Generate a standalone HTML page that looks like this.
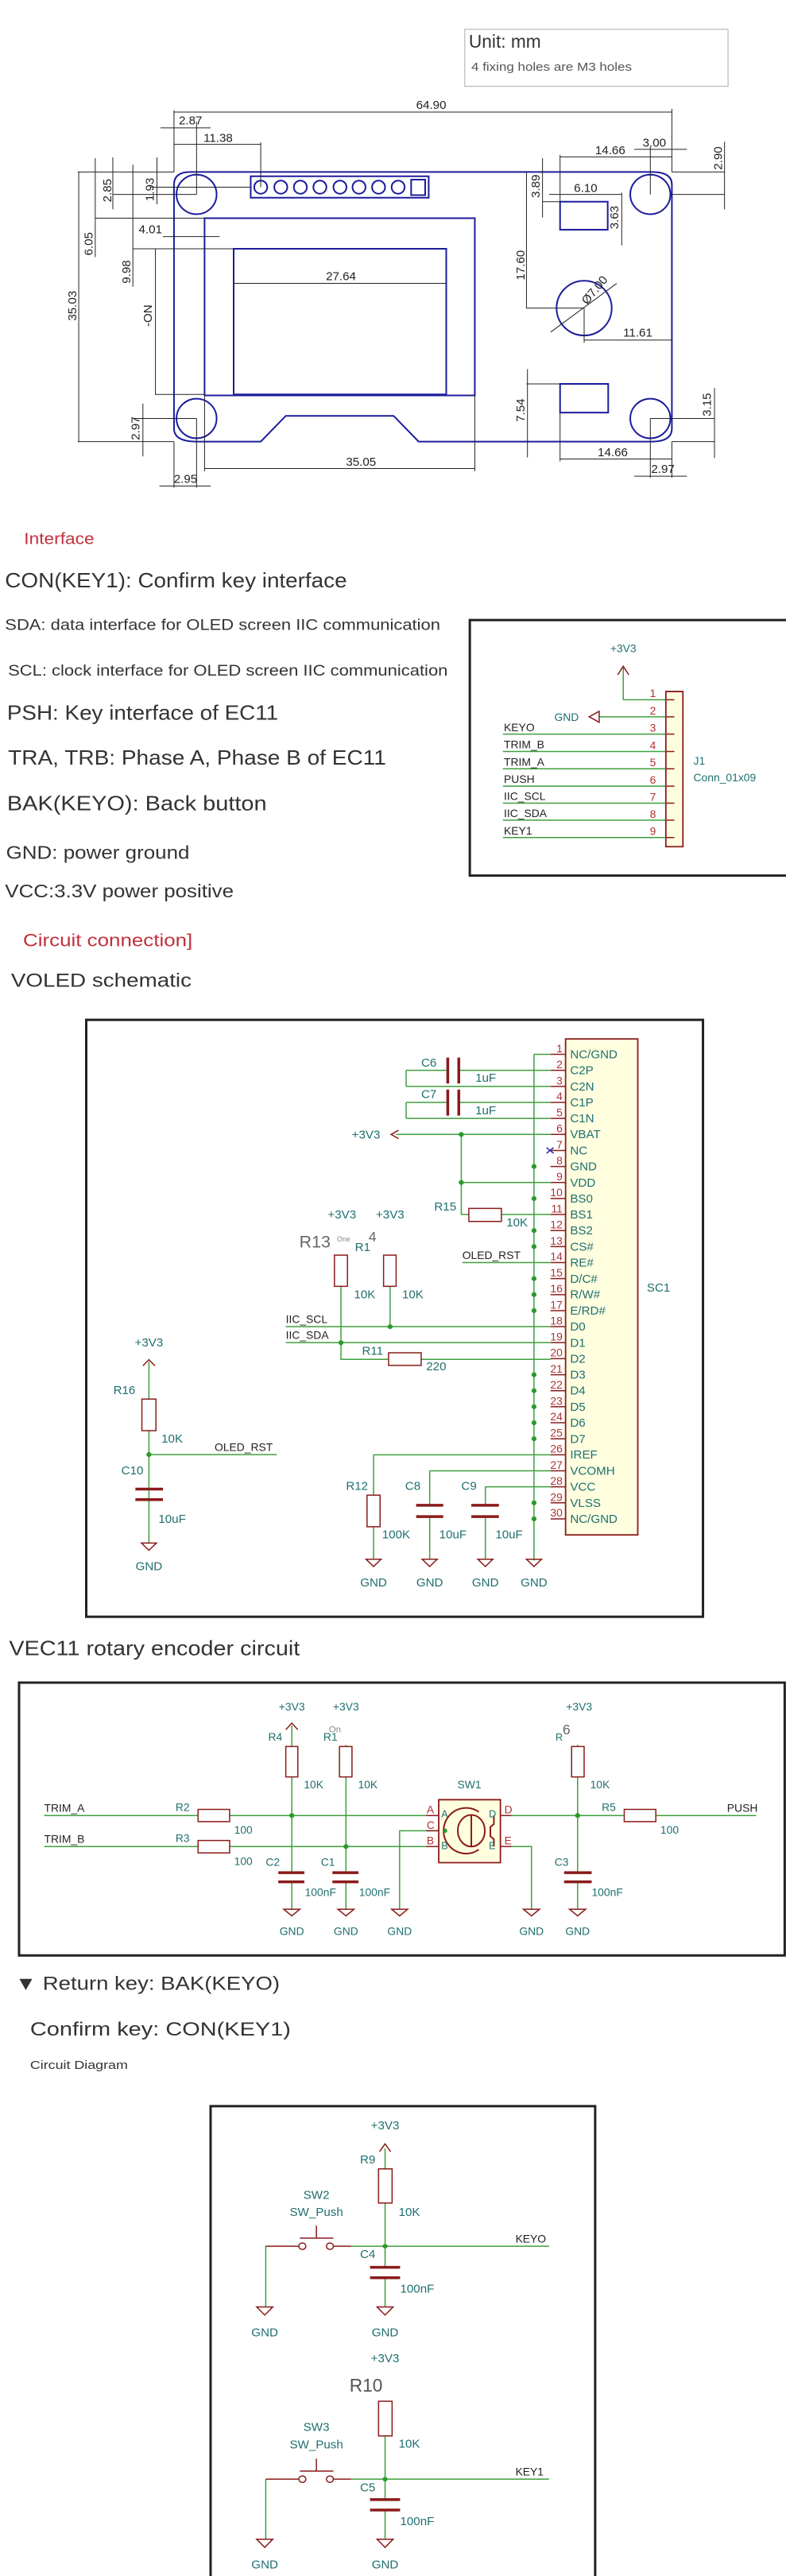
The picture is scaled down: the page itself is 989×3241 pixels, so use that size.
<!DOCTYPE html>
<html><head><meta charset="utf-8"><style>
html,body{margin:0;padding:0;background:#fff;}
svg{display:block;}
svg *{vector-effect:non-scaling-stroke;}
text{font-family:"Liberation Sans",sans-serif;}
.dl{stroke:#222;stroke-width:1;fill:none;}
.bd{stroke:#1c1c9c;stroke-width:2;fill:none;}
.dt{font-size:24px;fill:#222;text-anchor:middle;}
.tx{fill:#333;}
.red{fill:#c0303a;}
.w{stroke:#3f9f3f;stroke-width:1.5;fill:none;}
.r{stroke:#8b1a1a;stroke-width:1.5;fill:none;}
.rf{stroke:#8b1a1a;stroke-width:1.5;fill:#fff;}
.cap{stroke:#8b1a1a;stroke-width:3.5;fill:none;}
.ic{stroke:#8b1a1a;stroke-width:1.8;fill:#ffffe0;}
.box{stroke:#222;stroke-width:3;fill:none;}
.s{font-size:22px;fill:#222;}
.sm{font-size:22px;fill:#1f6f6f;}
.sc{font-size:24px;fill:#1f6f6f;}
.pn{font-size:22px;fill:#b03030;text-anchor:end;}
.c{text-anchor:middle;}
.dot{fill:#2a9a2a;}
</style></head><body>
<svg width="989" height="3241" viewBox="0 0 989 3241" xmlns="http://www.w3.org/2000/svg">
<rect width="989" height="3241" fill="#fff"/>

<!-- ===== Section 1: dimension drawing ===== -->
<g transform="scale(0.6309,0.4146)">
<rect x="927" y="89" width="525" height="173" fill="none" stroke="#aaa" stroke-width="1"/>
<text class="tx" style="font-size:36px" transform="translate(935,145)scale(1,1.522)">Unit: mm</text>
<text class="tx" style="font-size:24px;fill:#555" textLength="320" lengthAdjust="spacingAndGlyphs" transform="translate(940,215)scale(1,1.522)">4 fixing holes are M3 holes</text>

<!-- board -->
<path class="bd" d="M380,522 L1300,522 Q1340,522 1340,560 L1340,1300 Q1340,1340 1300,1340 L835,1340 L785,1262 L570,1262 L520,1340 L392,1340 Q347,1340 347,1300 L347,560 Q347,522 380,522 Z"/>
<ellipse class="bd" cx="392" cy="590" rx="40" ry="60"/>
<ellipse class="bd" cx="1297" cy="590" rx="40" ry="60"/>
<ellipse class="bd" cx="392" cy="1270" rx="40" ry="60"/>
<ellipse class="bd" cx="1297" cy="1270" rx="40" ry="60"/>
<rect class="bd" x="500" y="535" width="355" height="65"/>
<g class="bd">
<ellipse cx="520" cy="568" rx="13" ry="20"/><ellipse cx="560" cy="568" rx="13" ry="20"/><ellipse cx="599" cy="568" rx="13" ry="20"/><ellipse cx="638" cy="568" rx="13" ry="20"/><ellipse cx="678" cy="568" rx="13" ry="20"/><ellipse cx="716" cy="568" rx="13" ry="20"/><ellipse cx="755" cy="568" rx="13" ry="20"/><ellipse cx="794" cy="568" rx="13" ry="20"/>
<rect x="820" y="545" width="28" height="47"/>
</g>
<rect class="bd" x="408" y="662" width="539" height="538"/>
<rect class="bd" x="466" y="755" width="424" height="442"/>
<rect class="bd" x="1117" y="612" width="95" height="85"/>
<rect class="bd" x="1117" y="1165" width="96" height="87"/>
<ellipse class="bd" cx="1165" cy="935" rx="55" ry="83"/>

<!-- dimension lines -->
<g class="dl">
<path d="M347,340 H1340 M347,335 V522 M1340,330 V522"/>
<path d="M320,388 H420 M392,370 V590"/>
<path d="M347,438 H520 M520,432 V568"/>
<path d="M1117,476 H1340 M1265,453 H1370 M1297,445 V590 M1117,470 V612"/>
<path d="M1445,430 V635 M1340,522 H1445 M1340,590 H1445"/>
<path d="M190,480 V780 M225,478 V635 M265,500 V870 M313,478 V620"/>
<path d="M155,522 H347 M225,590 H392 M300,568 H500 M190,662 H408"/>
<path d="M325,718 H438 M265,755 H466 M310,755 V1197 H408"/>
<path d="M157,522 V1340 M155,1340 H347"/>
<path d="M466,860 H890"/>
<path d="M1050,522 V935 H1165 M1098,1008 L1230,860"/>
<path d="M1165,935 V1040 M1165,1032 H1340"/>
<path d="M1082,480 V660 M1095,590 H1240 M1240,585 V745 M1082,612 H1117"/>
<path d="M1052,1120 V1388 M1050,1165 H1117"/>
<path d="M1425,1178 V1390 M1297,1270 H1425 M1340,1340 H1425"/>
<path d="M1117,1393 H1340 M1117,1252 V1400 M1340,1340 V1450 M1265,1445 H1370 M1297,1270 V1450"/>
<path d="M285,1225 V1385 M265,1270 H392"/>
<path d="M408,1422 H947 M408,1200 V1430 M947,1200 V1430"/>
<path d="M318,1475 H420 M347,1340 V1480 M392,1270 V1480"/>
</g>
<text class="dt" transform="translate(860,330)scale(1,1.522)">64.90</text>
<text class="dt" transform="translate(380,378)scale(1,1.522)">2.87</text>
<text class="dt" transform="translate(435,430)scale(1,1.522)">11.38</text>
<text class="dt" transform="translate(1217,468)scale(1,1.522)">14.66</text>
<text class="dt" transform="translate(1305,445)scale(1,1.522)">3.00</text>
<text class="dt" transform="translate(1440,480)scale(1,1.522)rotate(-90)">2.90</text>
<text class="dt" transform="translate(222,578)scale(1,1.522)rotate(-90)">2.85</text>
<text class="dt" transform="translate(307,575)scale(1,1.522)rotate(-90)">1.93</text>
<text class="dt" transform="translate(185,740)scale(1,1.522)rotate(-90)">6.05</text>
<text class="dt" transform="translate(300,708)scale(1,1.522)">4.01</text>
<text class="dt" transform="translate(260,825)scale(1,1.522)rotate(-90)">9.98</text>
<text class="dt" transform="translate(152,928)scale(1,1.522)rotate(-90)">35.03</text>
<text class="dt" transform="translate(303,958)scale(1,1.522)rotate(-90)">-ON</text>
<text class="dt" transform="translate(680,850)scale(1,1.522)">27.64</text>
<text class="dt" transform="translate(1046,805)scale(1,1.522)rotate(-90)">17.60</text>
<text class="dt" transform="translate(1192,888)scale(1,1.522)rotate(-50)">Ø7.00</text>
<text class="dt" transform="translate(1272,1022)scale(1,1.522)">11.61</text>
<text class="dt" transform="translate(1076,565)scale(1,1.522)rotate(-90)">3.89</text>
<text class="dt" transform="translate(1168,582)scale(1,1.522)">6.10</text>
<text class="dt" transform="translate(1233,660)scale(1,1.522)rotate(-90)">3.63</text>
<text class="dt" transform="translate(1046,1245)scale(1,1.522)rotate(-90)">7.54</text>
<text class="dt" transform="translate(1418,1228)scale(1,1.522)rotate(-90)">3.15</text>
<text class="dt" transform="translate(1222,1385)scale(1,1.522)">14.66</text>
<text class="dt" transform="translate(1322,1435)scale(1,1.522)">2.97</text>
<text class="dt" transform="translate(278,1300)scale(1,1.522)rotate(-90)">2.97</text>
<text class="dt" transform="translate(720,1413)scale(1,1.522)">35.05</text>
<text class="dt" transform="translate(370,1465)scale(1,1.522)">2.95</text>
</g>

<!-- ===== Section 2: interface ===== -->
<g transform="translate(0,650) scale(0.6309,0.3827)">
<text class="red" style="font-size:32px" textLength="140" lengthAdjust="spacingAndGlyphs" transform="translate(48,90)scale(1,1.649)">Interface</text>
<text class="tx" style="font-size:41px" textLength="682" lengthAdjust="spacingAndGlyphs" transform="translate(10,232)scale(1,1.649)">CON(KEY1): Confirm key interface</text>
<text class="tx" style="font-size:31px" textLength="868" lengthAdjust="spacingAndGlyphs" transform="translate(10,372)scale(1,1.649)">SDA: data interface for OLED screen IIC communication</text>
<text class="tx" style="font-size:31px" textLength="877" lengthAdjust="spacingAndGlyphs" transform="translate(16,522)scale(1,1.649)">SCL: clock interface for OLED screen IIC communication</text>
<text class="tx" style="font-size:41px" textLength="541" lengthAdjust="spacingAndGlyphs" transform="translate(14,668)scale(1,1.649)">PSH: Key interface of EC11</text>
<text class="tx" style="font-size:41px" textLength="754" lengthAdjust="spacingAndGlyphs" transform="translate(16,815)scale(1,1.649)">TRA, TRB: Phase A, Phase B of EC11</text>
<text class="tx" style="font-size:41px" textLength="518" lengthAdjust="spacingAndGlyphs" transform="translate(14,965)scale(1,1.649)">BAK(KEYO): Back button</text>
<text class="tx" style="font-size:36px" textLength="366" lengthAdjust="spacingAndGlyphs" transform="translate(12,1125)scale(1,1.649)">GND: power ground</text>
<text class="tx" style="font-size:36px" textLength="456" lengthAdjust="spacingAndGlyphs" transform="translate(10,1252)scale(1,1.649)">VCC:3.3V power positive</text>
<text class="red" style="font-size:35px" textLength="338" lengthAdjust="spacingAndGlyphs" transform="translate(46,1412)scale(1,1.649)">Circuit connection]</text>
<text class="tx" style="font-size:38px" textLength="360" lengthAdjust="spacingAndGlyphs" transform="translate(22,1545)scale(1,1.649)">VOLED schematic</text>

<rect class="box" x="937" y="340" width="700" height="840"/>
<rect class="ic" x="1328" y="575" width="34" height="510"/>
<path class="r" d="M1325,602H1345M1325,658H1345M1325,715H1345M1325,772H1345M1325,829H1345M1325,886H1345M1325,942H1345M1325,998H1345M1325,1055H1345"/>
<path class="w" d="M1243,602H1328M1243,602V495 M1195,658H1328 M1003,715H1328M1003,772H1328M1003,829H1328M1003,886H1328M1003,942H1328M1003,998H1328M1003,1055H1328"/>
<path class="r" d="M1232,520L1243,492L1254,520 M1195,640L1175,658L1195,676Z"/>
<g class="pn" style="text-anchor:middle">
<text transform="translate(1302,593)scale(1,1.649)">1</text><text transform="translate(1302,650)scale(1,1.649)">2</text><text transform="translate(1302,707)scale(1,1.649)">3</text><text transform="translate(1302,764)scale(1,1.649)">4</text><text transform="translate(1302,821)scale(1,1.649)">5</text><text transform="translate(1302,878)scale(1,1.649)">6</text><text transform="translate(1302,934)scale(1,1.649)">7</text><text transform="translate(1302,990)scale(1,1.649)">8</text><text transform="translate(1302,1047)scale(1,1.649)">9</text>
</g>
<g class="s">
<text transform="translate(1005,705)scale(1,1.649)">KEYO</text>
<text transform="translate(1005,762)scale(1,1.649)">TRIM_B</text>
<text transform="translate(1005,819)scale(1,1.649)">TRIM_A</text>
<text transform="translate(1005,876)scale(1,1.649)">PUSH</text>
<text transform="translate(1005,932)scale(1,1.649)">IIC_SCL</text>
<text transform="translate(1005,988)scale(1,1.649)">IIC_SDA</text>
<text transform="translate(1005,1045)scale(1,1.649)">KEY1</text>
</g>
<text class="sm c" transform="translate(1243,445)scale(1,1.649)">+3V3</text>
<text class="sm c" transform="translate(1130,672)scale(1,1.649)">GND</text>
<text class="sm" transform="translate(1383,815)scale(1,1.649)">J1</text>
<text class="sm" transform="translate(1383,870)scale(1,1.649)">Conn_01x09</text>
</g>

<!-- ===== Section 3: OLED schematic ===== -->
<g transform="translate(0,1250) scale(0.6309,0.5102)">
<rect class="box" x="172" y="65" width="1230" height="1472"/>
<rect class="ic" x="1128" y="112" width="144" height="1223"/>
<path class="r" d="M1098,150H1128M1098,189.5H1128M1098,229H1128M1098,268.5H1128M1098,308H1128M1098,347.5H1128M1098,387H1128M1098,426.5H1128M1098,466H1128M1098,505.5H1128M1098,545H1128M1098,584.5H1128M1098,624H1128M1098,663.5H1128M1098,703H1128M1098,742.5H1128M1098,782H1128M1098,821.5H1128M1098,861H1128M1098,900.5H1128M1098,940H1128M1098,979.5H1128M1098,1019H1128M1098,1058.5H1128M1098,1098H1128M1098,1137.5H1128M1098,1177H1128M1098,1216.5H1128M1098,1256H1128M1098,1295.5H1128"/>
<g class="pn">
<text transform="translate(1122,145)scale(1,1.237)">1</text><text transform="translate(1122,184)scale(1,1.237)">2</text><text transform="translate(1122,224)scale(1,1.237)">3</text><text transform="translate(1122,263)scale(1,1.237)">4</text><text transform="translate(1122,303)scale(1,1.237)">5</text><text transform="translate(1122,342)scale(1,1.237)">6</text><text transform="translate(1122,382)scale(1,1.237)">7</text><text transform="translate(1122,421)scale(1,1.237)">8</text><text transform="translate(1122,461)scale(1,1.237)">9</text><text transform="translate(1122,500)scale(1,1.237)">10</text>
<text transform="translate(1122,540)scale(1,1.237)">11</text><text transform="translate(1122,579)scale(1,1.237)">12</text><text transform="translate(1122,619)scale(1,1.237)">13</text><text transform="translate(1122,658)scale(1,1.237)">14</text><text transform="translate(1122,698)scale(1,1.237)">15</text><text transform="translate(1122,737)scale(1,1.237)">16</text><text transform="translate(1122,777)scale(1,1.237)">17</text><text transform="translate(1122,816)scale(1,1.237)">18</text><text transform="translate(1122,856)scale(1,1.237)">19</text><text transform="translate(1122,895)scale(1,1.237)">20</text>
<text transform="translate(1122,935)scale(1,1.237)">21</text><text transform="translate(1122,974)scale(1,1.237)">22</text><text transform="translate(1122,1014)scale(1,1.237)">23</text><text transform="translate(1122,1053)scale(1,1.237)">24</text><text transform="translate(1122,1093)scale(1,1.237)">25</text><text transform="translate(1122,1132)scale(1,1.237)">26</text><text transform="translate(1122,1172)scale(1,1.237)">27</text><text transform="translate(1122,1211)scale(1,1.237)">28</text><text transform="translate(1122,1251)scale(1,1.237)">29</text><text transform="translate(1122,1290)scale(1,1.237)">30</text>
</g>
<g class="sc">
<text transform="translate(1137,160)scale(1,1.237)">NC/GND</text><text transform="translate(1137,199)scale(1,1.237)">C2P</text><text transform="translate(1137,239)scale(1,1.237)">C2N</text><text transform="translate(1137,278)scale(1,1.237)">C1P</text><text transform="translate(1137,318)scale(1,1.237)">C1N</text><text transform="translate(1137,357)scale(1,1.237)">VBAT</text><text transform="translate(1137,397)scale(1,1.237)">NC</text><text transform="translate(1137,436)scale(1,1.237)">GND</text><text transform="translate(1137,476)scale(1,1.237)">VDD</text><text transform="translate(1137,515)scale(1,1.237)">BS0</text>
<text transform="translate(1137,555)scale(1,1.237)">BS1</text><text transform="translate(1137,594)scale(1,1.237)">BS2</text><text transform="translate(1137,634)scale(1,1.237)">CS#</text><text transform="translate(1137,673)scale(1,1.237)">RE#</text><text transform="translate(1137,713)scale(1,1.237)">D/C#</text><text transform="translate(1137,752)scale(1,1.237)">R/W#</text><text transform="translate(1137,792)scale(1,1.237)">E/RD#</text><text transform="translate(1137,831)scale(1,1.237)">D0</text><text transform="translate(1137,871)scale(1,1.237)">D1</text><text transform="translate(1137,910)scale(1,1.237)">D2</text>
<text transform="translate(1137,950)scale(1,1.237)">D3</text><text transform="translate(1137,989)scale(1,1.237)">D4</text><text transform="translate(1137,1029)scale(1,1.237)">D5</text><text transform="translate(1137,1068)scale(1,1.237)">D6</text><text transform="translate(1137,1108)scale(1,1.237)">D7</text><text transform="translate(1137,1147)scale(1,1.237)">IREF</text><text transform="translate(1137,1187)scale(1,1.237)">VCOMH</text><text transform="translate(1137,1226)scale(1,1.237)">VCC</text><text transform="translate(1137,1266)scale(1,1.237)">VLSS</text><text transform="translate(1137,1305)scale(1,1.237)">NC/GND</text>
<text transform="translate(1290,735)scale(1,1.237)">SC1</text>
</g>
<!-- wires -->
<path class="w" d="M1065,150H1098 M1065,150V1398
M915,189.5H1098 M810,229H1098 M810,189.5V229 M810,189.5H893
M915,268.5H1098 M810,308H1098 M810,268.5V308 M810,268.5H893
M790,347.5H1098 M920,347.5V545 M920,466H1098 M920,545H935 M1000,545H1098
M922,663.5H1098
M680,722V902H775 M840,902H1098 M778,722V821.5 M570,821.5H1098 M570,861H1098
M297,908V1000 M297,1078V1355 M297,1137H552 M297,1222V1248
M745,1137.5H1098 M745,1137.5V1237 M745,1315V1395
M857,1177H1098 M857,1177V1262 M857,1290V1395
M968,1216.5H1098 M968,1216.5V1262 M968,1290V1395"/>
<path class="cap" d="M893,158V222 M915,158V222 M893,237V301 M915,237V301 M270,1222H325 M270,1248H325 M830,1262H884 M830,1290H884 M940,1262H995 M940,1290H995"/>
<path class="r" d="M795,337L780,347.5L795,358 M285,918L297,903L309,918
M1050,1395H1080L1065,1413Z M282,1355H312L297,1373Z M730,1395H760L745,1413Z M842,1395H872L857,1413Z M953,1395H983L968,1413Z"/>
<rect class="rf" x="935" y="530" width="65" height="32"/>
<rect class="rf" x="667" y="645" width="26" height="77"/>
<rect class="rf" x="765" y="645" width="25" height="77"/>
<rect class="rf" x="775" y="886" width="65" height="31"/>
<rect class="rf" x="283" y="1000" width="28" height="78"/>
<rect class="rf" x="732" y="1237" width="26" height="78"/>
<path d="M1090,380L1104,394M1104,380L1090,394" stroke="#3030b0" stroke-width="1.5"/>
<g class="dot">
<ellipse cx="920" cy="347.5" rx="5" ry="6"/><ellipse cx="920" cy="466" rx="5" ry="6"/><ellipse cx="778" cy="821.5" rx="5" ry="6"/><ellipse cx="680" cy="861" rx="5" ry="6"/><ellipse cx="297" cy="1137" rx="5" ry="6"/>
<ellipse cx="1065" cy="426.5" rx="5" ry="6"/><ellipse cx="1065" cy="505.5" rx="5" ry="6"/><ellipse cx="1065" cy="584.5" rx="5" ry="6"/><ellipse cx="1065" cy="624" rx="5" ry="6"/><ellipse cx="1065" cy="703" rx="5" ry="6"/><ellipse cx="1065" cy="742.5" rx="5" ry="6"/><ellipse cx="1065" cy="782" rx="5" ry="6"/><ellipse cx="1065" cy="940" rx="5" ry="6"/><ellipse cx="1065" cy="979.5" rx="5" ry="6"/><ellipse cx="1065" cy="1019" rx="5" ry="6"/><ellipse cx="1065" cy="1058.5" rx="5" ry="6"/><ellipse cx="1065" cy="1098" rx="5" ry="6"/><ellipse cx="1065" cy="1256" rx="5" ry="6"/><ellipse cx="1065" cy="1295.5" rx="5" ry="6"/>
</g>
<g class="sc">
<text transform="translate(840,180)scale(1,1.237)">C6</text><text transform="translate(948,218)scale(1,1.237)">1uF</text>
<text transform="translate(840,258)scale(1,1.237)">C7</text><text transform="translate(948,298)scale(1,1.237)">1uF</text>
<text class="c" transform="translate(730,358)scale(1,1.237)">+3V3</text>
<text transform="translate(866,535)scale(1,1.237)">R15</text><text transform="translate(1010,574)scale(1,1.237)">10K</text>
<text class="c" transform="translate(682,555)scale(1,1.237)">+3V3</text><text class="c" transform="translate(778,555)scale(1,1.237)">+3V3</text>
<text transform="translate(708,635)scale(1,1.237)">R1</text>
<text transform="translate(706,752)scale(1,1.237)">10K</text><text transform="translate(802,752)scale(1,1.237)">10K</text>
<text transform="translate(722,891)scale(1,1.237)">R11</text><text transform="translate(850,929)scale(1,1.237)">220</text>
<text class="c" transform="translate(297,870)scale(1,1.237)">+3V3</text>
<text transform="translate(226,988)scale(1,1.237)">R16</text><text transform="translate(322,1107)scale(1,1.237)">10K</text>
<text transform="translate(242,1186)scale(1,1.237)">C10</text><text transform="translate(316,1305)scale(1,1.237)">10uF</text>
<text class="c" transform="translate(297,1422)scale(1,1.237)">GND</text>
<text transform="translate(690,1224)scale(1,1.237)">R12</text><text transform="translate(762,1344)scale(1,1.237)">100K</text>
<text transform="translate(808,1224)scale(1,1.237)">C8</text><text transform="translate(876,1344)scale(1,1.237)">10uF</text>
<text transform="translate(920,1224)scale(1,1.237)">C9</text><text transform="translate(988,1344)scale(1,1.237)">10uF</text>
<text class="c" transform="translate(745,1462)scale(1,1.237)">GND</text><text class="c" transform="translate(857,1462)scale(1,1.237)">GND</text><text class="c" transform="translate(968,1462)scale(1,1.237)">GND</text><text class="c" transform="translate(1065,1462)scale(1,1.237)">GND</text>
</g>
<g class="s">
<text transform="translate(922,655)scale(1,1.237)">OLED_RST</text>
<text transform="translate(570,812)scale(1,1.237)">IIC_SCL</text>
<text transform="translate(570,852)scale(1,1.237)">IIC_SDA</text>
<text transform="translate(428,1128)scale(1,1.237)">OLED_RST</text>
</g>
<text style="font-size:34px;fill:#666" transform="translate(597,626)scale(1,1.237)">R13</text>
<text style="font-size:14px;fill:#888" transform="translate(672,612)scale(1,1.237)">One</text>
<text style="font-size:28px;fill:#666" transform="translate(735,612)scale(1,1.237)">4</text>
</g>

<!-- ===== Section 4: EC11 ===== -->
<g transform="translate(0,2050) scale(0.6309,0.3827)">
<text class="tx" style="font-size:41px" textLength="580" lengthAdjust="spacingAndGlyphs" transform="translate(18,85)scale(1,1.649)">VEC11 rotary encoder circuit</text>
<rect class="box" x="38" y="175" width="1527" height="897"/>
<path class="w" d="M88,612H395 M458,612H875 M88,714H395 M458,714H875
M582,316V385 M582,485V800 M582,830V920 M690,385V380 M690,485V800 M690,830V920
M888,662H797V920 M998,612H1245 M1308,612H1508 M998,714H1060V920
M1152,385V380 M1152,485V800 M1152,830V920"/>
<rect class="rf" x="395" y="592" width="63" height="40"/>
<rect class="rf" x="395" y="694" width="63" height="41"/>
<rect class="rf" x="570" y="385" width="24" height="100"/>
<rect class="rf" x="677" y="385" width="25" height="100"/>
<rect class="rf" x="1140" y="385" width="25" height="100"/>
<rect class="rf" x="1245" y="592" width="63" height="40"/>
<path class="cap" d="M555,800H607M555,830H607M663,800H715M663,830H715M1125,800H1180M1125,830H1180"/>
<path class="r" d="M570,330L582,308L594,330 M566,920H598L582,942Z M674,920H706L690,942Z M781,920H813L797,942Z M1044,920H1076L1060,942Z M1136,920H1168L1152,942Z M850,612H875M850,662H888M850,714H875M998,612H1020M998,714H1020"/>
<rect class="ic" x="875" y="560" width="123" height="207"/>
<ellipse class="r" cx="940" cy="662" rx="27" ry="52" style="stroke-width:2"/>
<path class="r" d="M940,612V712 M955,600A45,75 0 1 0 955,724 M985,612V640L978,650V680L985,690V714" style="stroke-width:2"/>
<g class="dot"><ellipse cx="582" cy="612" rx="5" ry="8"/><ellipse cx="690" cy="714" rx="5" ry="8"/><ellipse cx="1152" cy="612" rx="5" ry="8"/><ellipse cx="888" cy="662" rx="4" ry="7"/></g>
<g class="s"><text transform="translate(88,600)scale(1,1.649)">TRIM_A</text><text transform="translate(88,702)scale(1,1.649)">TRIM_B</text><text transform="translate(1450,600)scale(1,1.649)">PUSH</text></g>
<g class="sm">
<text transform="translate(350,597)scale(1,1.649)">R2</text><text transform="translate(467,672)scale(1,1.649)">100</text>
<text transform="translate(350,699)scale(1,1.649)">R3</text><text transform="translate(467,775)scale(1,1.649)">100</text>
<text class="c" transform="translate(582,267)scale(1,1.649)">+3V3</text><text class="c" transform="translate(690,267)scale(1,1.649)">+3V3</text><text class="c" transform="translate(1155,267)scale(1,1.649)">+3V3</text>
<text transform="translate(535,366)scale(1,1.649)">R4</text><text transform="translate(645,366)scale(1,1.649)">R1</text>
<text transform="translate(606,522)scale(1,1.649)">10K</text><text transform="translate(714,522)scale(1,1.649)">10K</text><text transform="translate(1177,522)scale(1,1.649)">10K</text>
<text class="c" transform="translate(936,522)scale(1,1.649)">SW1</text>
<text transform="translate(530,777)scale(1,1.649)">C2</text><text transform="translate(640,777)scale(1,1.649)">C1</text><text transform="translate(1106,777)scale(1,1.649)">C3</text>
<text transform="translate(608,877)scale(1,1.649)">100nF</text><text transform="translate(716,877)scale(1,1.649)">100nF</text><text transform="translate(1180,877)scale(1,1.649)">100nF</text>
<text transform="translate(1200,597)scale(1,1.649)">R5</text><text transform="translate(1317,672)scale(1,1.649)">100</text>
<text class="c" transform="translate(582,1005)scale(1,1.649)">GND</text><text class="c" transform="translate(690,1005)scale(1,1.649)">GND</text><text class="c" transform="translate(797,1005)scale(1,1.649)">GND</text><text class="c" transform="translate(1060,1005)scale(1,1.649)">GND</text><text class="c" transform="translate(1152,1005)scale(1,1.649)">GND</text>
</g>
<g style="font-size:22px;fill:#b03030">
<text transform="translate(851,605)scale(1,1.649)">A</text><text transform="translate(851,656)scale(1,1.649)">C</text><text transform="translate(851,707)scale(1,1.649)">B</text><text transform="translate(1006,605)scale(1,1.649)">D</text><text transform="translate(1006,707)scale(1,1.649)">E</text>
</g>
<g style="font-size:20px;fill:#1f6f6f">
<text transform="translate(880,618)scale(1,1.649)">A</text><text transform="translate(880,722)scale(1,1.649)">B</text><text transform="translate(975,618)scale(1,1.649)">D</text><text transform="translate(975,722)scale(1,1.649)">E</text>
</g>
<text style="font-size:18px;fill:#888" transform="translate(656,338)scale(1,1.649)">On</text>
<text style="font-size:28px;fill:#666" transform="translate(1122,345)scale(1,1.649)">6</text>
<text style="font-size:20px;fill:#1f6f6f" transform="translate(1108,366)scale(1,1.649)">R</text>

<text class="tx" style="font-size:38px" textLength="528" lengthAdjust="spacingAndGlyphs" transform="translate(30,1185)scale(1,1.649)">▼ Return key: BAK(KEYO)</text>
<text class="tx" style="font-size:38px" textLength="520" lengthAdjust="spacingAndGlyphs" transform="translate(60,1335)scale(1,1.649)">Confirm key: CON(KEY1)</text>
<text class="tx" style="font-size:23px" textLength="195" lengthAdjust="spacingAndGlyphs" transform="translate(60,1445)scale(1,1.649)">Circuit Diagram</text>
</g>

<!-- ===== Section 5: keys ===== -->
<g transform="translate(0,2600) scale(0.6309,0.4088)">
<path class="box" d="M420,1620V122H1187V1620"/>
<path class="w" d="M768,252V315 M768,420V615 M768,650V740 M700,553H1095 M530,553V740
M768,1137V1330 M768,1365V1455 M700,1270H1095 M530,1270V1455"/>
<path class="r" d="M757,262L768,238L779,262 M530,553H596 M665,553H700 M598,528H665 M631,490V528
M530,1270H596 M665,1270H700 M598,1245H665 M631,1207V1245
M512,740H544L528,765Z M752,740H784L768,765Z M512,1455H544L528,1480Z M752,1455H784L768,1480Z"/>
<ellipse class="r" cx="603" cy="553" rx="7" ry="10"/><ellipse class="r" cx="658" cy="553" rx="7" ry="10"/>
<ellipse class="r" cx="603" cy="1270" rx="7" ry="10"/><ellipse class="r" cx="658" cy="1270" rx="7" ry="10"/>
<rect class="rf" x="755" y="315" width="27" height="105"/>
<rect class="rf" x="755" y="1030" width="27" height="107"/>
<path class="cap" d="M738,618H798M738,650H798M738,1333H798M738,1365H798"/>
<g class="dot"><ellipse cx="768" cy="553" rx="5" ry="7"/><ellipse cx="768" cy="1270" rx="5" ry="7"/></g>
<g class="sc">
<text class="c" transform="translate(768,193)scale(1,1.543)">+3V3</text>
<text transform="translate(718,298)scale(1,1.543)">R9</text>
<text transform="translate(795,460)scale(1,1.543)">10K</text>
<text class="c" transform="translate(631,407)scale(1,1.543)">SW2</text>
<text class="c" transform="translate(631,460)scale(1,1.543)">SW_Push</text>
<text transform="translate(718,590)scale(1,1.543)">C4</text>
<text transform="translate(798,696)scale(1,1.543)">100nF</text>
<text class="c" transform="translate(528,830)scale(1,1.543)">GND</text><text class="c" transform="translate(768,830)scale(1,1.543)">GND</text>
<text class="c" transform="translate(768,910)scale(1,1.543)">+3V3</text>
<text transform="translate(795,1173)scale(1,1.543)">10K</text>
<text class="c" transform="translate(631,1122)scale(1,1.543)">SW3</text>
<text class="c" transform="translate(631,1175)scale(1,1.543)">SW_Push</text>
<text transform="translate(718,1308)scale(1,1.543)">C5</text>
<text transform="translate(798,1412)scale(1,1.543)">100nF</text>
<text class="c" transform="translate(528,1545)scale(1,1.543)">GND</text><text class="c" transform="translate(768,1545)scale(1,1.543)">GND</text>
</g>
<g class="s"><text transform="translate(1028,542)scale(1,1.543)">KEYO</text><text transform="translate(1028,1258)scale(1,1.543)">KEY1</text></g>
<text style="font-size:36px;fill:#555" class="c" transform="translate(730,1000)scale(1,1.543)">R10</text>
</g>
</svg>
</body></html>
